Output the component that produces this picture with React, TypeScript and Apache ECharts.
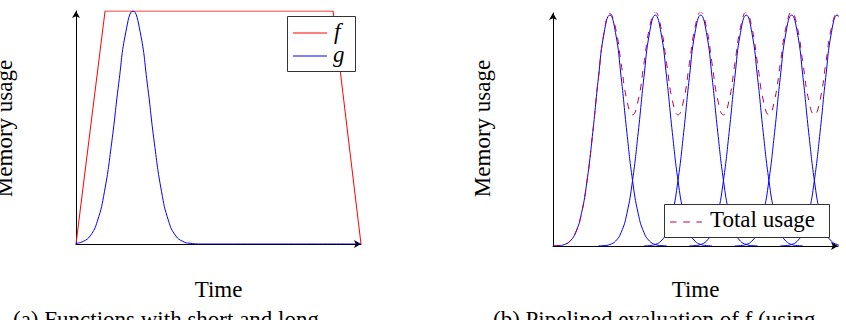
import React, { useEffect, useRef } from 'react';
import * as echarts from 'echarts';

// Left panel: f (long-lived) and g (short-lived)
const F_X = [0, 1.02, 9.02, 10];
const F_Y = [0, 1, 1, 0];
const G_X = [0, 0.25, 0.5, 0.75, 1, 1.25, 1.5, 1.75, 2, 2.25, 2.5, 2.75, 3, 3.25, 3.5, 3.75, 4, 4.5, 10];
const G_Y = [0.003, 0.011, 0.035, 0.098, 0.226, 0.433, 0.69, 0.911, 1, 0.911, 0.69, 0.433, 0.226, 0.098, 0.035, 0.011, 0.003, 0, 0];

// Right panel: pipelined pulses of g
const PEAKS = [1.25, 2.25, 3.25, 4.25, 5.25, 6.25];
const PULSE_OFFSETS = [-1.25, -1.125, -1, -0.875, -0.75, -0.625, -0.5, -0.375, -0.25, -0.125, 0,
  0.125, 0.25, 0.375, 0.5, 0.625, 0.75, 0.875, 1, 1.125, 1.25];
const PULSE_VALUES = [0.0004, 0.0017, 0.0065, 0.021, 0.059, 0.14, 0.284, 0.492, 0.73, 0.924, 1,
  0.924, 0.73, 0.492, 0.284, 0.14, 0.059, 0.021, 0.0065, 0.0017, 0.0004];

const LEFT_LEGEND = ['f', 'g'];
const RIGHT_LEGEND = ['Total usage'];
const Y_NAME = 'Memory usage';
const X_NAME = 'Time';
const CAPTION_A = '(a) Functions with short and long';
const CAPTION_B = '(b) Pipelined evaluation of f (using';

const SERIF = 'Liberation Serif';
const RED = '#ff0000';
const BLUE = '#0000ff';
const PURPLE = '#bf0040';

function buildPulses() {
  return PEAKS.map((p) => PULSE_OFFSETS.map((d, i) => [+(p + d).toFixed(3), PULSE_VALUES[i]]));
}

function buildTotal(pulses: number[][][]) {
  const m = new Map<number, number>();
  pulses.forEach((s) => s.forEach(([x, y]) => m.set(x, (m.get(x) || 0) + y)));
  return Array.from(m.entries()).sort((a, b) => a[0] - b[0]);
}

const axisCommon = {
  axisTick: { show: false },
  axisLabel: { show: false },
  splitLine: { show: false },
  axisLine: {
    show: true,
    symbol: ['none', 'arrow'],
    symbolSize: [6, 7],
    lineStyle: { color: '#000', width: 1 },
  },
};

export default function App() {
  const ref = useRef<HTMLDivElement>(null);
  useEffect(() => {
    if (!ref.current) return;
    const chart = echarts.init(ref.current, null, { renderer: 'svg' });
    const pulses = buildPulses();
    const total = buildTotal(pulses);
    const textStyle = (extra: any) => ({ fontFamily: SERIF, fontSize: 23, fill: '#000', ...extra });
    chart.setOption({
      animation: false,
      backgroundColor: '#fff',
      grid: [
        { left: 76, top: 11, width: 285, height: 233 },
        { left: 553, top: 13, width: 285, height: 233 },
      ],
      xAxis: [
        { type: 'value', gridIndex: 0, min: 0, max: 10, ...axisCommon },
        { type: 'value', gridIndex: 1, min: 0, max: 6.27, ...axisCommon },
      ],
      yAxis: [
        { type: 'value', gridIndex: 0, min: 0, max: 1, ...axisCommon },
        { type: 'value', gridIndex: 1, min: 0, max: 1.009, ...axisCommon },
      ],
      series: [
        {
          name: LEFT_LEGEND[0], type: 'line', xAxisIndex: 0, yAxisIndex: 0, symbol: 'none',
          data: F_X.map((x, i) => [x, F_Y[i]]), lineStyle: { color: RED, width: 1 },
        },
        {
          name: LEFT_LEGEND[1], type: 'line', xAxisIndex: 0, yAxisIndex: 0, symbol: 'none', smooth: 0.5,
          data: G_X.map((x, i) => [x, G_Y[i]]), lineStyle: { color: BLUE, width: 1 },
        },
        ...pulses.map((d, k) => ({
          name: 'g' + (k + 1), type: 'line', xAxisIndex: 1, yAxisIndex: 1, symbol: 'none', smooth: 0.5,
          data: d, lineStyle: { color: BLUE, width: 1 },
        })),
        {
          name: RIGHT_LEGEND[0], type: 'line', xAxisIndex: 1, yAxisIndex: 1, symbol: 'none', smooth: 0.5,
          data: total, lineStyle: { color: PURPLE, width: 1, type: [6.6, 6.6] }, z: 3,
        },
      ],
      graphic: [
        // axis titles
        { type: 'text', x: 4.2, y: 128.5, rotation: Math.PI / 2, z: 100,
          style: textStyle({ text: Y_NAME, align: 'center', verticalAlign: 'middle' }) },
        { type: 'text', x: 482, y: 128.5, rotation: Math.PI / 2, z: 100,
          style: textStyle({ text: Y_NAME, align: 'center', verticalAlign: 'middle' }) },
        { type: 'text', x: 218.5, y: 289, z: 100,
          style: textStyle({ text: X_NAME, align: 'center', verticalAlign: 'middle' }) },
        { type: 'text', x: 695.5, y: 289, z: 100,
          style: textStyle({ text: X_NAME, align: 'center', verticalAlign: 'middle' }) },
        // captions (clipped by the page bottom)
        { type: 'text', x: 13, y: 319.8, z: 100,
          style: textStyle({ text: CAPTION_A, align: 'left', verticalAlign: 'middle' }) },
        { type: 'text', x: 493, y: 319.8, z: 100,
          style: textStyle({ text: CAPTION_B, align: 'left', verticalAlign: 'middle' }) },
        // left legend
        { type: 'rect', z: 100, shape: { x: 287.5, y: 16.5, width: 68, height: 55 },
          style: { fill: '#fff', stroke: '#333', lineWidth: 1 } },
        { type: 'line', z: 101, shape: { x1: 293, y1: 33, x2: 327, y2: 33 }, style: { stroke: RED, lineWidth: 1 } },
        { type: 'line', z: 101, shape: { x1: 293, y1: 56, x2: 327, y2: 56 }, style: { stroke: BLUE, lineWidth: 1 } },
        { type: 'text', x: 334, y: 31, z: 101,
          style: textStyle({ text: LEFT_LEGEND[0], fontStyle: 'italic', align: 'left', verticalAlign: 'middle' }) },
        { type: 'text', x: 333, y: 54, z: 101,
          style: textStyle({ text: LEFT_LEGEND[1], fontStyle: 'italic', align: 'left', verticalAlign: 'middle' }) },
        // right legend
        { type: 'rect', z: 100, shape: { x: 664.5, y: 204.5, width: 165, height: 33 },
          style: { fill: '#fff', stroke: '#333', lineWidth: 1 } },
        { type: 'line', z: 101, shape: { x1: 670, y1: 222, x2: 702, y2: 222 },
          style: { stroke: PURPLE, lineWidth: 1, lineDash: [6.6, 6.6] } },
        { type: 'text', x: 710, y: 219, z: 101,
          style: textStyle({ text: RIGHT_LEGEND[0], align: 'left', verticalAlign: 'middle' }) },
      ],
    });
    return () => chart.dispose();
  }, []);
  return (
    <div
      ref={ref}
      style={{ position: 'fixed', left: 0, top: 0, width: 846, height: 320, background: '#fff' }}
    />
  );
}
